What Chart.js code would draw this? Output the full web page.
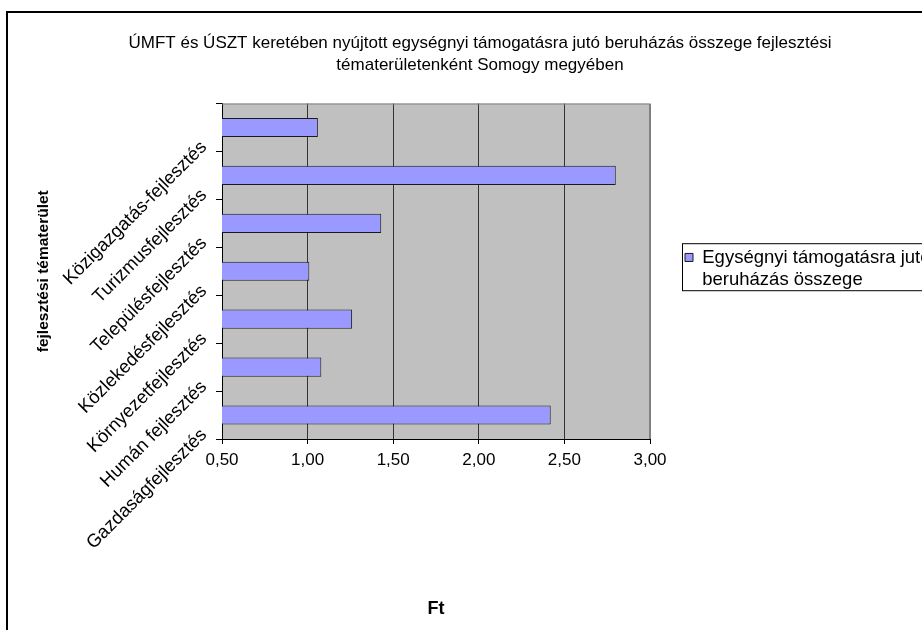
<!DOCTYPE html>
<html>
<head>
<meta charset="utf-8">
<script src="https://cdn.jsdelivr.net/npm/chart.js@4.4.0/dist/chart.umd.min.js"></script>
<style>
    html, body { margin: 0; padding: 0; background: #fff; overflow: hidden; }
    #chart-wrap { position: relative; width: 922px; height: 630px; }
</style>
</head>
<body>
<div id="chart-wrap">
    <canvas id="investment-chart" width="922" height="630"></canvas>
</div>
<script>
const categories = [
    'Közigazgatás-fejlesztés',
    'Turizmusfejlesztés',
    'Településfejlesztés',
    'Közlekedésfejlesztés',
    'Környezetfejlesztés',
    'Humán fejlesztés',
    'Gazdaságfejlesztés',
];
const investmentPerUnit = [1.06, 2.80, 1.43, 1.01, 1.26, 1.08, 2.42];
const xMin = 0.5;
const xMax = 3.0;
const xStep = 0.5;
const chartTitle = [
    'ÚMFT és ÚSZT keretében nyújtott egységnyi támogatásra jutó beruházás összege fejlesztési',
    'tématerületenként Somogy megyében',
];
const seriesLabel = ['Egységnyi támogatásra jutó', 'beruházás összege'];

const FONT = '"Liberation Sans", Arial, sans-serif';

// grey plot area + outer frame, like the old spreadsheet chart
const plotBackground = {
    id: 'plotBackground',
    beforeDraw(chart) {
        const { ctx, chartArea } = chart;
        ctx.save();
        ctx.fillStyle = '#c0c0c0';
        ctx.fillRect(chartArea.left, chartArea.top, chartArea.right - chartArea.left, chartArea.bottom - chartArea.top);
        ctx.strokeStyle = '#000';
        ctx.lineWidth = 2;
        ctx.strokeRect(7, 12, 2000, 2000);
        ctx.restore();
    },
    beforeDatasetsDraw(chart) {
        const { ctx, chartArea } = chart;
        ctx.save();
        ctx.strokeStyle = '#808080';
        ctx.lineWidth = 1;
        ctx.beginPath();
        ctx.moveTo(chartArea.left, chartArea.top + 0.5);
        ctx.lineTo(chartArea.right - 0.5, chartArea.top + 0.5);
        ctx.lineTo(chartArea.right - 0.5, chartArea.bottom);
        ctx.stroke();
        ctx.restore();
    },
};

// box around the legend
const legendFrame = {
    id: 'legendFrame',
    afterDraw(chart) {
        const hb = chart.legend && chart.legend.legendHitBoxes && chart.legend.legendHitBoxes[0];
        if (!hb) return;
        const ctx = chart.ctx;
        ctx.save();
        ctx.strokeStyle = '#000';
        ctx.lineWidth = 1;
        ctx.strokeRect(hb.left - 2.5, hb.top - 4.5, 400, 47);
        ctx.restore();
    },
};

function renderInvestmentChart() {
    const chartElm = document.getElementById('investment-chart');
    if (!chartElm) return;

    const ctx = chartElm.getContext('2d');
    new Chart(ctx, {
        type: 'bar',
        data: {
            labels: categories,
            datasets: [{
                label: seriesLabel,
                data: investmentPerUnit,
                backgroundColor: '#9999ff',
                borderColor: '#1a1a1a',
                borderWidth: 1,
                borderSkipped: false,
                barPercentage: 0.4,
                categoryPercentage: 1,
            }],
        },
        options: {
            indexAxis: 'y',
            responsive: false,
            animation: false,
            layout: {
                padding: { left: 30, right: -8, top: 0, bottom: 10 },
            },
            plugins: {
                title: {
                    display: true,
                    text: chartTitle,
                    color: '#000',
                    font: { family: FONT, size: 17, weight: 'normal', lineHeight: 1.25 },
                    padding: { top: 33, bottom: 28 },
                },
                legend: {
                    position: 'right',
                    align: 'start',
                    maxWidth: 280,
                    // empty title only pushes the entry down next to the plot middle
                    title: {
                        display: true,
                        text: ' ',
                        font: { family: FONT, size: 1 },
                        padding: { top: 212, bottom: 0 },
                    },
                    labels: {
                        color: '#000',
                        font: { family: FONT, size: 18.5 },
                        boxWidth: 8,
                        boxHeight: 8,
                        padding: 35,
                        generateLabels: () => [{
                            text: seriesLabel,
                            fillStyle: '#9999ff',
                            strokeStyle: '#1a1a1a',
                            fontColor: '#000',
                            lineWidth: 1,
                            datasetIndex: 0,
                        }],
                    },
                },
                tooltip: { enabled: false },
            },
            scales: {
                x: {
                    min: xMin,
                    max: xMax,
                    ticks: {
                        stepSize: xStep,
                        color: '#000',
                        padding: 6,
                        font: { family: FONT, size: 17 },
                        callback: value => value.toFixed(2).replace('.', ','),
                    },
                    grid: {
                        color: c => (c.tick && c.tick.value === xMax ? '#808080' : '#333'),
                        tickColor: '#000',
                        tickLength: 5,
                    },
                    border: { color: '#000', width: 1 },
                    title: {
                        display: true,
                        text: 'Ft',
                        color: '#000',
                        font: { family: FONT, size: 18, weight: 'bold' },
                        padding: { top: 0, bottom: 0 },
                    },
                    afterFit: scale => { scale.height = 181; },
                },
                y: {
                    ticks: {
                        color: '#000',
                        font: { family: FONT, size: 18.5 },
                        minRotation: 45,
                        maxRotation: 45,
                        padding: 12,
                        labelOffset: 17,
                        autoSkip: false,
                    },
                    grid: {
                        drawOnChartArea: false,
                        color: '#000',
                        tickLength: 6,
                    },
                    border: { color: '#000', width: 1 },
                    title: {
                        display: true,
                        text: 'fejlesztési tématerület',
                        color: '#000',
                        font: { family: FONT, size: 15.5, weight: 'bold' },
                        padding: { top: 4, bottom: 0 },
                    },
                    afterFit: scale => { scale.width = 192; },
                },
            },
        },
        plugins: [plotBackground, legendFrame],
    });
}

renderInvestmentChart();
</script>
</body>
</html>
